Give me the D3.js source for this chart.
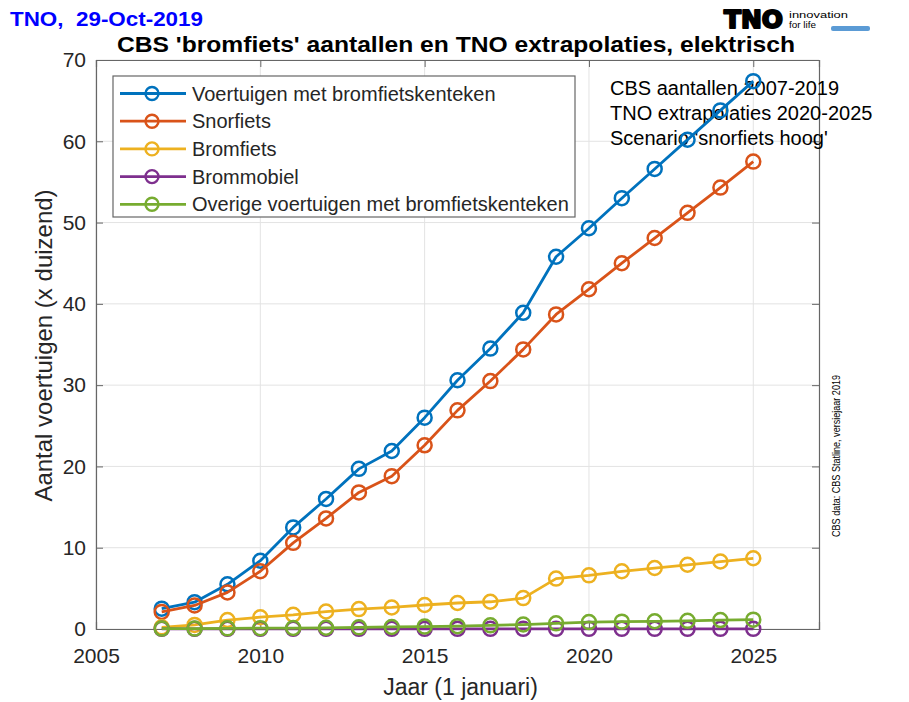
<!DOCTYPE html>
<html>
<head>
<meta charset="utf-8">
<script src="https://cdn.jsdelivr.net/npm/d3@7/dist/d3.min.js"></script>
<style>
  html, body { margin: 0; padding: 0; background: #fff; }
  svg { display: block; font-family: "Liberation Sans", Arial, Helvetica, sans-serif; }
</style>
</head>
<body>
<svg id="chart" width="909" height="702"></svg>
<script>
// ---- Data ----
const years = [2007,2008,2009,2010,2011,2012,2013,2014,2015,2016,2017,2018,2019,2020,2021,2022,2023,2024,2025];
const voertuigen = [2.5,3.3,5.5,8.4,12.5,16.0,19.7,21.9,26.0,30.6,34.5,38.9,45.8,49.3,53.0,56.6,60.2,63.8,67.4];
const snorfiets  = [2.1,2.9,4.5,7.1,10.6,13.6,16.8,18.8,22.6,26.9,30.5,34.4,38.7,41.8,45.0,48.1,51.2,54.3,57.5];
const bromfiets  = [0.2,0.5,1.1,1.45,1.75,2.15,2.45,2.65,2.95,3.2,3.35,3.8,6.2,6.6,7.1,7.5,7.9,8.3,8.7];
const brommobiel = [0.02,0.02,0.02,0.02,0.02,0.02,0.02,0.02,0.02,0.02,0.02,0.02,0.02,0.02,0.02,0.02,0.02,0.02,0.02];
const overige    = [0.05,0.05,0.08,0.1,0.12,0.15,0.2,0.25,0.3,0.35,0.45,0.55,0.7,0.85,0.9,0.95,1.0,1.1,1.15];
const seriesNames = ["Voertuigen met bromfietskenteken","Snorfiets","Bromfiets","Brommobiel","Overige voertuigen met bromfietskenteken"];
const seriesColors = ["#0072BD","#D95319","#EDB120","#7E2F8E","#77AC30"];
const xTicks = [2005,2010,2015,2020,2025];
const yTicks = [0,10,20,30,40,50,60,70];
const annotations = ["CBS aantallen 2007-2019","TNO extrapolaties 2020-2025","Scenario 'snorfiets hoog'"];

const seriesValues = [voertuigen, snorfiets, bromfiets, brommobiel, overige];

// ---- Layout ----
const svg = d3.select("#chart");
const L = 96, R = 819, T = 60, B = 629;
const x = d3.scaleLinear().domain([2005, 2027]).range([L, R]);
const y = d3.scaleLinear().domain([0, 70]).range([B, T]);
const axisCol = "#666";
const textCol = "#262626";

// grid
const g = svg.append("g");
g.selectAll(".gx").data(xTicks).enter().append("line")
  .attr("x1", d => x(d)).attr("x2", d => x(d)).attr("y1", T).attr("y2", B)
  .attr("stroke", "#e3e3e3").attr("stroke-width", 1);
g.selectAll(".gy").data(yTicks).enter().append("line")
  .attr("x1", L).attr("x2", R).attr("y1", d => y(d)).attr("y2", d => y(d))
  .attr("stroke", "#e3e3e3").attr("stroke-width", 1);

// axes with inward ticks
const tl = 7;
const axB = svg.append("g").attr("transform", `translate(0,${B})`)
  .call(d3.axisBottom(x).tickValues(xTicks).tickSize(-tl).tickFormat(d3.format("d")));
const axT = svg.append("g").attr("transform", `translate(0,${T})`)
  .call(d3.axisTop(x).tickValues(xTicks).tickSize(-tl).tickFormat(""));
const axL = svg.append("g").attr("transform", `translate(${L},0)`)
  .call(d3.axisLeft(y).tickValues(yTicks).tickSize(-tl));
const axR = svg.append("g").attr("transform", `translate(${R},0)`)
  .call(d3.axisRight(y).tickValues(yTicks).tickSize(-tl).tickFormat(""));
[axB, axT, axL, axR].forEach(a => {
  a.select(".domain").attr("stroke", axisCol).attr("stroke-width", 1.2);
  a.selectAll(".tick line").attr("stroke", axisCol).attr("stroke-width", 1);
  a.selectAll("text").attr("fill", textCol).attr("font-size", 21)
    .attr("font-family", "Liberation Sans, Arial, sans-serif");
});
axB.selectAll("text").attr("dy", "0.71em").attr("y", 19);
axL.selectAll("text").attr("x", -10);

// annotations (under the lines)
const ann = svg.append("g");
annotations.forEach((t, i) => {
  ann.append("text").attr("x", 610).attr("y", 95 + i * 25)
    .attr("font-size", 20).attr("fill", "#000").text(t);
});

// series
const line = d3.line().x((d, i) => x(years[i])).y(d => y(d));
seriesValues.forEach((vals, si) => {
  const col = seriesColors[si];
  svg.append("path").datum(vals).attr("d", line)
    .attr("fill", "none").attr("stroke", col).attr("stroke-width", 2.8)
    .attr("stroke-linejoin", "round");
  svg.append("g").selectAll("circle").data(vals).enter().append("circle")
    .attr("cx", (d, i) => x(years[i])).attr("cy", d => y(d)).attr("r", 7)
    .attr("fill", "none").attr("stroke", col).attr("stroke-width", 2.5);
});

// legend
const lg = svg.append("g");
lg.append("rect").attr("x", 113).attr("y", 76).attr("width", 462).attr("height", 141)
  .attr("fill", "#fff").attr("stroke", axisCol).attr("stroke-width", 1.2);
seriesNames.forEach((n, i) => {
  const cy = 93.5 + i * 27.7;
  lg.append("line").attr("x1", 120).attr("x2", 186).attr("y1", cy).attr("y2", cy)
    .attr("stroke", seriesColors[i]).attr("stroke-width", 2.8);
  lg.append("circle").attr("cx", 152).attr("cy", cy).attr("r", 6.5)
    .attr("fill", "none").attr("stroke", seriesColors[i]).attr("stroke-width", 2.4);
  lg.append("text").attr("x", 192).attr("y", cy + 7).attr("font-size", 20)
    .attr("fill", textCol).text(n);
});

// axis labels
svg.append("text").attr("x", (L + R) / 2 + 3).attr("y", 695).attr("text-anchor", "middle")
  .attr("font-size", 23).attr("fill", textCol).text("Jaar (1 januari)");
svg.append("text").attr("transform", `translate(52,${(T + B) / 2 + 1}) rotate(-90)`)
  .attr("text-anchor", "middle").attr("font-size", 24).attr("fill", textCol)
  .text("Aantal voertuigen (x duizend)");

// titles
svg.append("text").attr("x", 10).attr("y", 26).attr("font-size", 20).attr("font-weight", "bold")
  .attr("fill", "#0000ff").attr("textLength", 193).attr("lengthAdjust", "spacingAndGlyphs")
  .style("white-space", "pre").text("TNO,  29-Oct-2019");
svg.append("text").attr("x", 117).attr("y", 52).attr("font-size", 22).attr("font-weight", "bold")
  .attr("fill", "#000").attr("textLength", 678).attr("lengthAdjust", "spacingAndGlyphs")
  .text("CBS 'bromfiets' aantallen en TNO extrapolaties, elektrisch");

// side note
svg.append("text").attr("transform", "translate(840,456) rotate(-90)")
  .attr("text-anchor", "middle").attr("font-size", 10).attr("fill", "#000")
  .attr("textLength", 162).attr("lengthAdjust", "spacingAndGlyphs")
  .text("CBS data: CBS Statline, versiejaar 2019");

// logo
const logo = svg.append("g");
logo.append("text").attr("x", 724).attr("y", 28).attr("font-size", 24).attr("font-weight", 900)
  .attr("font-family", "DejaVu Sans, Arial Black, sans-serif").attr("fill", "#000")
  .attr("stroke", "#000").attr("stroke-width", 2).attr("stroke-linejoin", "round")
  .attr("textLength", 59).attr("lengthAdjust", "spacingAndGlyphs").text("TNO");
logo.append("text").attr("x", 789).attr("y", 17.5).attr("font-size", 9.5).attr("fill", "#000")
  .attr("textLength", 59).attr("lengthAdjust", "spacingAndGlyphs").text("innovation");
logo.append("text").attr("x", 789).attr("y", 28).attr("font-size", 9.5).attr("fill", "#000")
  .attr("textLength", 27).attr("lengthAdjust", "spacingAndGlyphs").text("for life");
logo.append("rect").attr("x", 831).attr("y", 26).attr("width", 39).attr("height", 5)
  .attr("rx", 2).attr("fill", "#5b9bd5");
</script>
</body>
</html>
